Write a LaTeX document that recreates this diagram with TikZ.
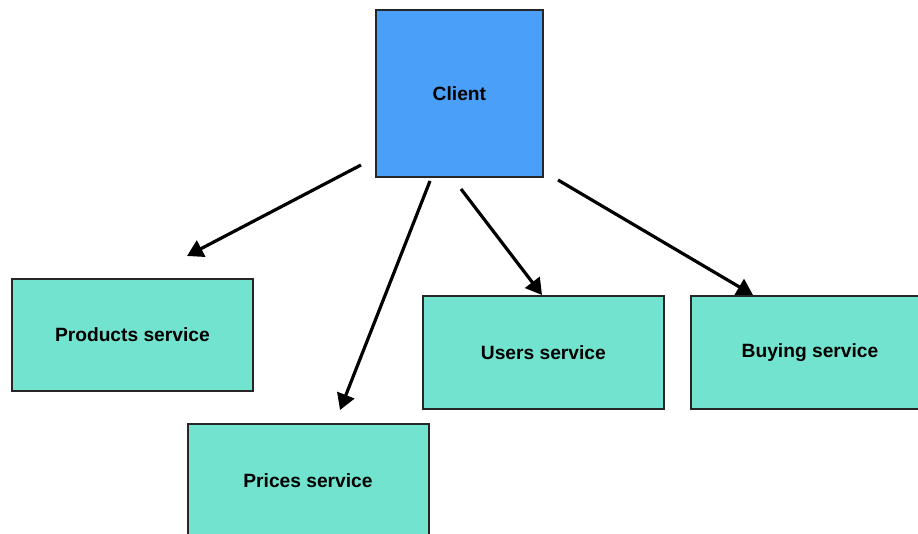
\documentclass[tikz,border=0pt]{standalone}
\usepackage{fontspec}
\setmainfont{Liberation Sans}
\usetikzlibrary{arrows.meta}
\definecolor{clientblue}{HTML}{4A9FF9}
\definecolor{svcteal}{HTML}{72E3CE}
\begin{document}
\begin{tikzpicture}[x=1pt,y=-1pt,
  lbl/.style={font=\fontsize{19.2}{21}\selectfont\bfseries},
  box/.style={draw=black!85,line width=1.8pt,inner sep=0pt,anchor=north west,lbl},
  svc/.style={box,fill=svcteal},
  conn/.style={line width=3.2pt,-{Triangle[length=16pt,width=18pt]}}]
\useasboundingbox (0,0) rectangle (918,534);
\clip (0,0) rectangle (918,534);
\node[box,fill=clientblue,minimum width=167pt,minimum height=167pt] (client) at (375,9) {Client};
\node[svc,minimum width=241pt,minimum height=112pt] (products) at (11,278) {Products service};
\node[svc,minimum width=241pt,minimum height=125pt] (prices) at (187,423) {};
\node[lbl] (pricestext) at (308,481) {Prices service};
\node[svc,minimum width=241pt,minimum height=113pt] (users) at (422,295) {Users service};
\node[svc,minimum width=240pt,minimum height=113pt] (buying) at (690,295) {};
\node[lbl] (buyingtext) at (810,353) {Buying service};
\coordinate (a1s) at (361,165); \coordinate (a1e) at (187,256);
\coordinate (a2s) at (430,181); \coordinate (a2e) at (340,410);
\coordinate (a3s) at (461,189); \coordinate (a3e) at (542,295);
\coordinate (a4s) at (558,180); \coordinate (a4e) at (753,295);
\draw[conn] (a1s) -- (a1e);
\draw[conn] (a2s) -- (a2e);
\draw[conn] (a3s) -- (a3e);
\draw[conn] (a4s) -- (a4e);
\end{tikzpicture}
\end{document}
